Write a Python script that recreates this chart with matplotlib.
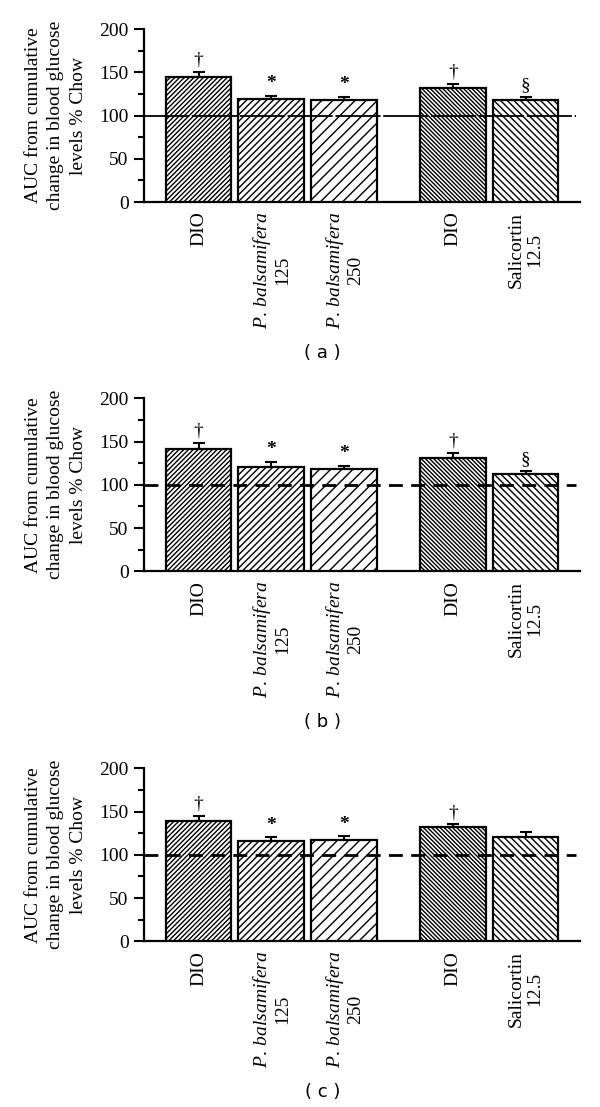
import numpy as np
import matplotlib
matplotlib.use('Agg')
import matplotlib.pyplot as plt
from matplotlib.ticker import MultipleLocator

plt.rcParams['font.family'] = ['Liberation Serif', 'DejaVu Serif']
plt.rcParams['mathtext.fontset'] = 'custom'
plt.rcParams['mathtext.it'] = 'Liberation Serif:italic'
plt.rcParams['mathtext.rm'] = 'Liberation Serif'
plt.rcParams['hatch.linewidth'] = 1.0

# ── data ─────────────────────────────────────────────────────────────────────
groups = ['DIO', r'$\mathit{P.\:balsamifera}$' + '\n125',
          r'$\mathit{P.\:balsamifera}$' + '\n250', 'DIO', 'Salicortin\n12.5']
positions = [0, 1, 2, 3.5, 4.5]

vals_a = [145, 119, 118, 132, 118]
err_a = [5, 4, 3.5, 4, 3]
marks_a = ['†', '*', '*', '†', '§']

vals_b = [141.5, 121, 118, 130.5, 113]
err_b = [6.5, 5.5, 4, 6.5, 2.5]
marks_b = ['†', '*', '*', '†', '§']

vals_c = [139.5, 116, 117.5, 132, 120.5]
err_c = [5, 4.5, 4, 3, 6]
marks_c = ['†', '*', '*', '†', '']

panel_names = ['( a )', '( b )', '( c )']
hatches = ['/' * 7, '/' * 5, '/' * 3, '\\' * 8, '\\' * 5]
# ─────────────────────────────────────────────────────────────────────────────

fig = plt.figure(figsize=(6, 11.07), dpi=100)
bottoms = [0.8175, 0.4839, 0.1497]
label_y = [0.681, 0.348, 0.0135]
panels = [(vals_a, err_a, marks_a), (vals_b, err_b, marks_b), (vals_c, err_c, marks_c)]

for i, (vals, errs, marks) in enumerate(panels):
    ax = fig.add_axes([0.24, bottoms[i], 0.7267, 0.1563])
    bars = ax.bar(positions, vals, width=0.9, color='white', edgecolor='black',
                  linewidth=1.6, zorder=3)
    for b, h in zip(bars, hatches):
        b.set_hatch(h)
    ax.errorbar(positions, vals, yerr=[np.zeros(len(errs)), errs], fmt='none',
                ecolor='black', elinewidth=1.5, capsize=4, capthick=1.5, zorder=2)
    for x, v, e, m in zip(positions, vals, errs, marks):
        if m:
            ax.text(x, v + e + 4, m, ha='center', va='bottom', fontsize=14,
                    fontweight='bold' if m == '*' else 'normal')

    if i == 0:
        ax.axhline(100, xmin=0, xmax=0.99, color='black', lw=1.3,
                   dashes=(25, 1.5), zorder=4)
    else:
        ax.axhline(100, xmin=0, xmax=0.99, color='black', lw=2,
                   dashes=(5, 3), zorder=4)

    ax.set_xlim(-0.75, 5.25)
    ax.set_ylim(0, 200)
    ax.yaxis.set_major_locator(MultipleLocator(50))
    ax.yaxis.set_minor_locator(MultipleLocator(25))
    ax.spines['top'].set_visible(False)
    ax.spines['right'].set_visible(False)
    ax.spines['left'].set_linewidth(1.6)
    ax.spines['bottom'].set_linewidth(1.6)
    ax.tick_params(axis='y', which='major', length=7, width=1.5, labelsize=14, pad=4)
    ax.tick_params(axis='y', which='minor', length=4, width=1.5)
    ax.tick_params(axis='x', length=0, pad=7)
    ax.set_xticks(positions)
    ax.set_xticklabels(groups, rotation=90, fontsize=14, va='top',
                       multialignment='center', linespacing=1.1)

    ax.text(-0.202, 0.5, 'AUC from cumulative\nchange in blood glucose\nlevels % Chow',
            transform=ax.transAxes, rotation=90, ha='center', va='center',
            multialignment='center', fontsize=14, linespacing=1.45)

    fig.text(0.537, label_y[i], panel_names[i], ha='center', va='center',
             fontsize=13, family='DejaVu Sans')

fig.savefig('out.png', dpi=100)
